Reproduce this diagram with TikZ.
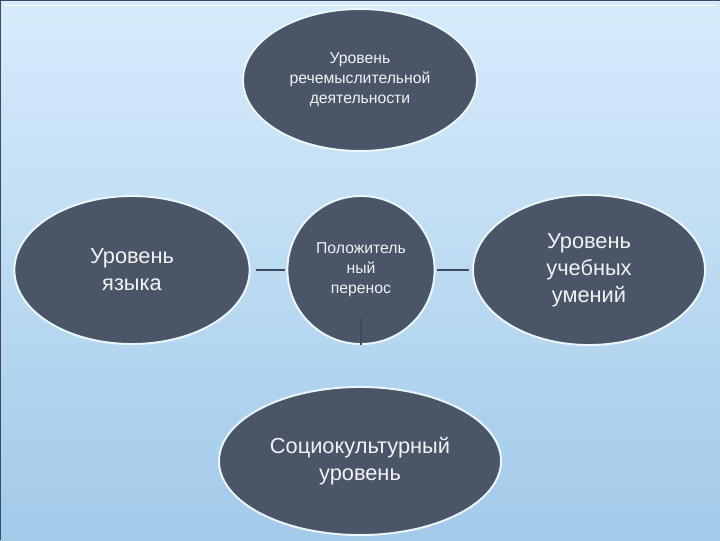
\documentclass[tikz,border=0pt]{standalone}
\usepackage{fontspec}
\setmainfont{Liberation Sans}
\usetikzlibrary{shapes.geometric}
\definecolor{slidetop}{HTML}{D6ECFB}
\definecolor{slidebot}{HTML}{A2CAE9}
\definecolor{frame}{HTML}{3E4B5E}
\definecolor{blob}{HTML}{4A5568}
\definecolor{rim}{HTML}{EAF5FD}
\definecolor{label}{HTML}{F2F2F2}
\tikzset{
    blob/.style={ellipse, fill=blob, draw=rim, line width=1.4pt, inner sep=0pt,
        text=label, align=center},
    small/.style={font=\fontsize{11.2}{14.2}\selectfont},
    big/.style={font=\fontsize{15.5}{19.2}\selectfont},
    conn/.style={draw=frame, line width=2pt}
}
\begin{document}
\begin{tikzpicture}[x=0.025cm, y=-0.025cm]
        % slide background
        \useasboundingbox (0,0) rectangle (720,540);
        \shade[top color=slidetop, bottom color=slidebot] (0,0) rectangle (720,540);
        \draw[frame, line width=1.5pt] (0,540) -- (0,0) -- (720,0);
        \draw[white, line width=0.5pt] (5,5) -- (715,5);
        % levels
        \node[blob, small, minimum width=5.85cm, minimum height=3.55cm] (thought) at (360,80)
            {Уровень\\речемыслительной\\деятельности};
        \node[blob, big, minimum width=5.88cm, minimum height=3.7cm] (lang) at (132,270)
            {Уровень\\языка};
        \node[blob, small, minimum width=3.68cm, minimum height=3.7cm] (transfer) at (361,270)
            {Положитель\\ный\\перенос};
        \node[blob, big, minimum width=5.8cm, minimum height=3.75cm] (skills) at (589,270)
            {Уровень\\учебных\\умений};
        \node[blob, big, minimum width=7.05cm, minimum height=3.7cm] (social) at (360,461)
            {Социокультурный\\уровень};
        % connectors
        \draw[conn, shorten <=4pt, shorten >=1pt] (lang.east) -- (transfer.west);
        \draw[conn, shorten <=1pt, shorten >=2pt] (transfer.east) -- (skills.west);
        \coordinate (tick) at (361,318);
        \draw[conn, line width=1.2pt] (tick) -- (transfer.south);
    \end{tikzpicture}
\end{document}
